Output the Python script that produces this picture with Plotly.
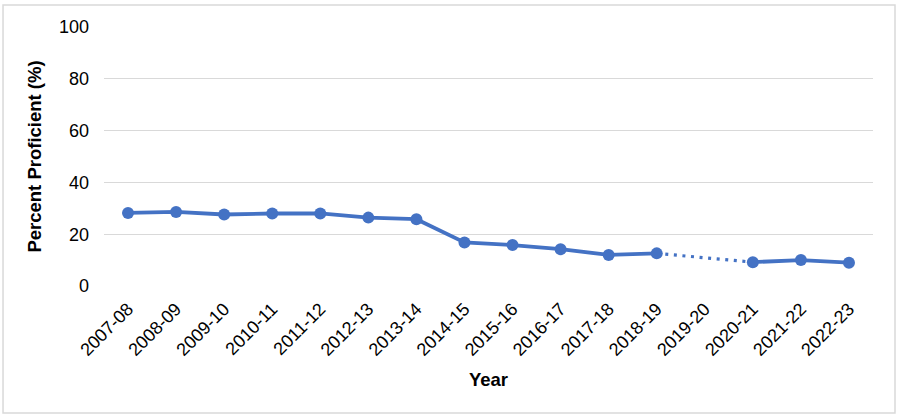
import plotly.graph_objects as go

years = ["2007-08", "2008-09", "2009-10", "2010-11", "2011-12", "2012-13",
         "2013-14", "2014-15", "2015-16", "2016-17", "2017-18", "2018-19",
         "2019-20", "2020-21", "2021-22", "2022-23"]
# 2019-20 has no data (gap bridged with a dotted line)
pct_proficient = [28.2, 28.6, 27.6, 28.0, 28.0, 26.4, 25.8, 16.8, 15.8,
                  14.2, 12.0, 12.6, None, 9.2, 10.0, 9.0]

blue = "#4472C4"

# dotted bridge over the missing year
gap = years.index("2019-20")
bridge_x = [years[gap - 1], years[gap + 1]]
bridge_y = [pct_proficient[gap - 1], pct_proficient[gap + 1]]

fig = go.Figure()
fig.add_trace(go.Scatter(
    x=bridge_x, y=bridge_y, mode="lines",
    line=dict(color=blue, width=3.2, dash="3px,5.6px"),
    hoverinfo="skip", showlegend=False,
))
fig.add_trace(go.Scatter(
    x=years, y=pct_proficient, mode="lines+markers",
    connectgaps=False,
    line=dict(color=blue, width=3.8),
    marker=dict(color=blue, size=12),
    showlegend=False,
))

font = "Liberation Sans, Arial, sans-serif"

fig.update_layout(
    width=900, height=419,
    margin=dict(l=104, r=27, t=27, b=133, autoexpand=False),
    paper_bgcolor="white", plot_bgcolor="white",
    font=dict(family=font, color="black", size=18),
    xaxis=dict(
        type="category", categoryorder="array", categoryarray=years,
        range=[-0.5, len(years) - 0.5],
        tickangle=-45, tickfont=dict(size=18),
        showgrid=False, showline=False, ticks="",
        ticklabelstandoff=8, automargin=False,
        title=dict(text="<b>Year</b>", font=dict(size=18.5), standoff=14),
    ),
    yaxis=dict(
        range=[0, 100], dtick=20, tickfont=dict(size=18),
        showgrid=True, gridcolor="#D9D9D9", gridwidth=1,
        zeroline=False, showline=False, ticks="",
        ticklabelstandoff=14, automargin=False,
        title=dict(text="<b>Percent Proficient (%)</b>", font=dict(size=18.5), standoff=12),
    ),
    shapes=[dict(
        type="rect", xref="paper", yref="paper",
        x0=-0.1313, x1=1.0286, y0=-0.490, y1=1.085,
        line=dict(color="#D9D9D9", width=1.5), layer="below",
    )],
)

fig.write_html("out.html", config={"displayModeBar": False},
               post_script="document.body.style.margin='0';")
